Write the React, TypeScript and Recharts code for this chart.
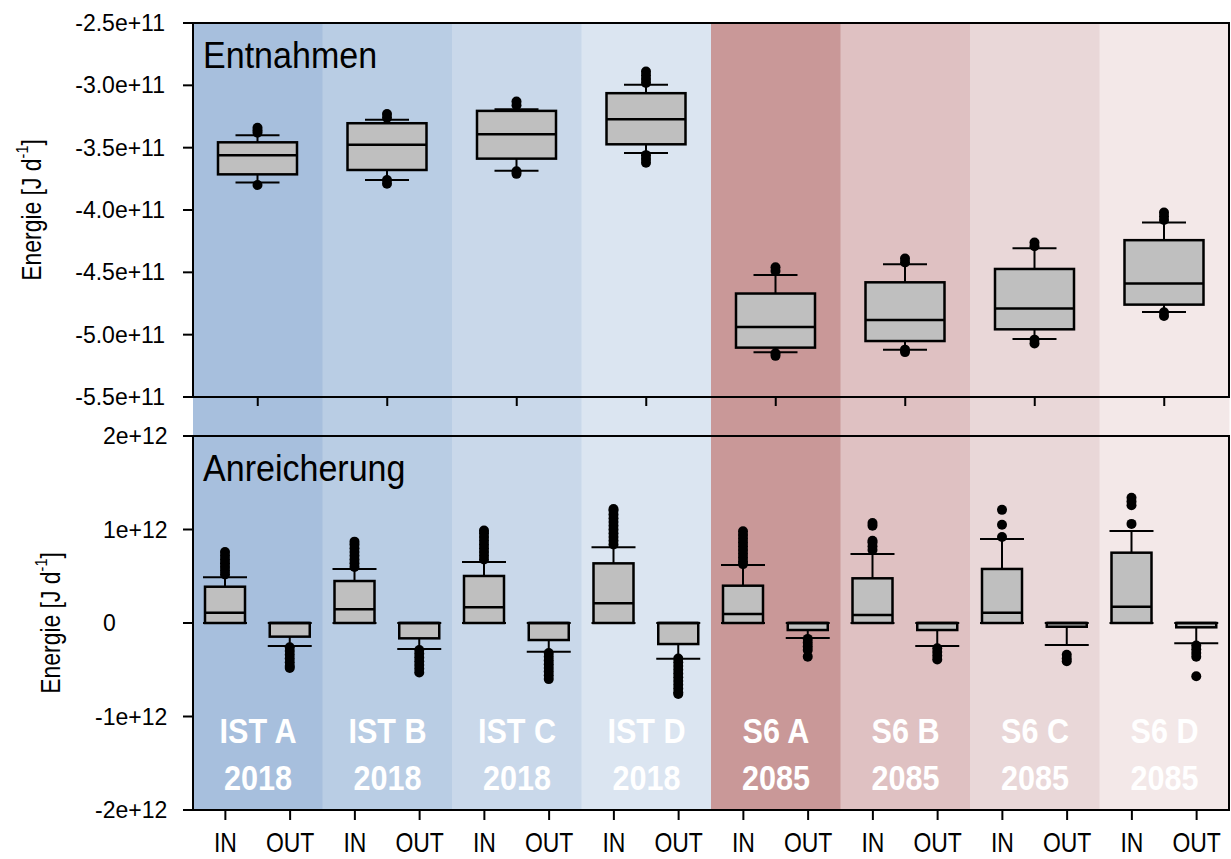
import React from "react";
import { Bar, Cell, ComposedChart, ReferenceArea, XAxis, YAxis } from "recharts";

const FONT = "'Liberation Sans', Arial, Helvetica, sans-serif";
const WIDTH = 1231;

// scenario groups shown as coloured bands behind both panels
const groups = ["IST A", "IST B", "IST C", "IST D", "S6 A", "S6 B", "S6 C", "S6 D"];
const years = ["2018", "2018", "2018", "2018", "2085", "2085", "2085", "2085"];
const bandColors = ["#a7bfdd", "#b9cde4", "#c9d8ea", "#dbe5f1", "#c99898", "#dfc1c2", "#e9d7d8", "#f3e8e8"];

// Entnahmen, in 1e11 J/d
const takeLow = [-3.78, -3.76, -3.685, -3.543, -5.142, -5.121, -5.035, -4.818];
const takeQ1 = [-3.714, -3.679, -3.588, -3.473, -5.104, -5.051, -4.957, -4.759];
const takeMedian = [-3.561, -3.476, -3.392, -3.272, -4.939, -4.883, -4.791, -4.59];
const takeQ3 = [-3.457, -3.304, -3.205, -3.063, -4.67, -4.58, -4.473, -4.242];
const takeHigh = [-3.4, -3.277, -3.191, -2.996, -4.521, -4.435, -4.306, -4.1];
const takeOutliers = [
  [-3.34, -3.36, -3.38, -3.8],
  [-3.23, -3.26, -3.76, -3.79],
  [-3.13, -3.16, -3.69, -3.71],
  [-2.89, -2.92, -2.95, -2.98, -3.56, -3.59, -3.62],
  [-4.46, -4.49, -5.15, -5.17],
  [-4.39, -4.42, -5.12, -5.14],
  [-4.26, -4.29, -5.04, -5.07],
  [-4.02, -4.05, -4.08, -4.82, -4.85],
];
const takeTicks = [-5.5, -5, -4.5, -4, -3.5, -3, -2.5];

// Anreicherung, in 1e12 J/d
const inLow = [0, 0, 0, 0, 0, 0, 0, 0];
const inQ1 = [0, 0, 0, 0, 0, 0, 0, 0];
const inMedian = [0.11, 0.146, 0.168, 0.211, 0.096, 0.086, 0.11, 0.174];
const inQ3 = [0.388, 0.449, 0.503, 0.638, 0.399, 0.478, 0.578, 0.752];
const inHigh = [0.489, 0.578, 0.652, 0.81, 0.62, 0.738, 0.898, 0.984];
const inOutliers = [
  [0.52, 0.56, 0.6, 0.64, 0.68, 0.72, 0.76],
  [0.6, 0.64, 0.68, 0.72, 0.76, 0.8, 0.84, 0.87],
  [0.68, 0.72, 0.76, 0.8, 0.84, 0.88, 0.92, 0.96, 0.99],
  [0.84, 0.88, 0.92, 0.96, 1.0, 1.04, 1.08, 1.12, 1.16, 1.2, 1.22],
  [0.63, 0.66, 0.7, 0.74, 0.78, 0.82, 0.86, 0.9, 0.94, 0.98],
  [0.78, 0.82, 0.86, 0.88, 1.04, 1.07],
  [0.92, 1.05, 1.21],
  [1.06, 1.26, 1.3, 1.34],
];
const outLow = [-0.246, -0.278, -0.307, -0.382, -0.16, -0.246, -0.235, -0.217];
const outQ1 = [-0.146, -0.164, -0.182, -0.225, -0.075, -0.075, -0.04, -0.046];
const outMedian = [0, 0, 0, 0, 0, 0, 0, 0];
const outQ3 = [0, 0, 0, 0, 0, 0, 0, 0];
const outHigh = [0, 0, 0, 0, 0, 0, 0, 0];
const outOutliers = [
  [-0.26, -0.3, -0.34, -0.38, -0.42, -0.46, -0.48],
  [-0.29, -0.33, -0.37, -0.41, -0.45, -0.49, -0.53],
  [-0.32, -0.36, -0.4, -0.44, -0.48, -0.52, -0.56, -0.6],
  [-0.38, -0.42, -0.46, -0.5, -0.54, -0.58, -0.62, -0.66, -0.7, -0.74, -0.76],
  [-0.17, -0.21, -0.25, -0.29, -0.36],
  [-0.27, -0.31, -0.35, -0.39],
  [-0.34, -0.38, -0.41],
  [-0.24, -0.28, -0.32, -0.36, -0.57],
];
const flowTicks = [-2, -1, 0, 1, 2];

type BoxRow = {
  key: string;
  low: number;
  q1: number;
  median: number;
  q3: number;
  high: number;
  outliers: number[];
  span: [number, number];
};

function boxRow(key: string, low: number, q1: number, median: number, q3: number, high: number, outliers: number[]): BoxRow {
  const all = [low, high, ...outliers];
  return { key, low, q1, median, q3, high, outliers, span: [Math.min(...all), Math.max(...all)] };
}

const bandRows = groups.map((group, i) => ({ group, year: years[i], full: 1 }));
const takeRows = groups.map((g, i) =>
  boxRow(g, takeLow[i], takeQ1[i], takeMedian[i], takeQ3[i], takeHigh[i], takeOutliers[i])
);
const flowRows = groups.flatMap((g, i) => [
  boxRow(`${g}|IN`, inLow[i], inQ1[i], inMedian[i], inQ3[i], inHigh[i], inOutliers[i]),
  boxRow(`${g}|OUT`, outLow[i], outQ1[i], outMedian[i], outQ3[i], outHigh[i], outOutliers[i]),
]);

const axisStyle = { stroke: "#000", strokeWidth: 2 };

// the bar spans [min, max] of a box; other stats are placed linearly inside it
const makeBoxShape = (capWidth: number) => (props: any) => {
  const { x, y, width, height, payload } = props;
  const row: BoxRow = payload;
  const [vMin, vMax] = row.span;
  const top = Math.min(y, y + height);
  const bottom = Math.max(y, y + height);
  const py = (v: number) => (vMax === vMin ? top : top + ((vMax - v) / (vMax - vMin)) * (bottom - top));
  const cx = x + width / 2;
  const half = capWidth / 2;
  return (
    <g>
      <line x1={cx} x2={cx} y1={py(row.high)} y2={py(row.q3)} stroke="#000" strokeWidth={2} />
      <line x1={cx} x2={cx} y1={py(row.q1)} y2={py(row.low)} stroke="#000" strokeWidth={2} />
      <line x1={cx - half} x2={cx + half} y1={py(row.high)} y2={py(row.high)} stroke="#000" strokeWidth={2} />
      <line x1={cx - half} x2={cx + half} y1={py(row.low)} y2={py(row.low)} stroke="#000" strokeWidth={2} />
      <rect x={x} y={py(row.q3)} width={width} height={py(row.q1) - py(row.q3)} fill="#bfbfbf" stroke="#000" strokeWidth={2.5} />
      <line x1={x} x2={x + width} y1={py(row.median)} y2={py(row.median)} stroke="#000" strokeWidth={2.5} />
      {row.outliers.map((v, k) => (
        <circle key={k} cx={cx} cy={py(v)} r={5} fill="#000" />
      ))}
    </g>
  );
};

function BandShape(props: any) {
  const { x, y, width, height, payload, fill } = props;
  const cx = x + width / 2;
  const base = y + height;
  return (
    <g>
      <rect x={x} y={y} width={width} height={height} fill={fill} />
      <g fill="#fff" fontFamily={FONT} fontWeight="bold" fontSize={36}>
        <text transform={`translate(${cx},${base - 67}) scale(0.85,1)`} textAnchor="middle">{payload.group}</text>
        <text transform={`translate(${cx},${base - 20}) scale(0.85,1)`} textAnchor="middle">{payload.year}</text>
      </g>
    </g>
  );
}

function TakeYTick(props: any) {
  const { x, y, payload } = props;
  return (
    <text x={x} y={y} dy={8} textAnchor="end" fontSize={23} fontFamily={FONT} fill="#000">
      {`${Number(payload.value).toFixed(1)}e+11`}
    </text>
  );
}

function FlowYTick(props: any) {
  const { x, y, payload } = props;
  const v = Number(payload.value);
  const label = v === 0 ? "0" : `${v < 0 ? "-" : ""}${Math.abs(v)}e+12`;
  const start = x - 65 - (v < 0 ? 8 : 0);
  return (
    <text x={start} y={y} dy={8} textAnchor="start" fontSize={23} fontFamily={FONT} fill="#000">
      {label}
    </text>
  );
}

function FlowXTick(props: any) {
  const { x, y, payload } = props;
  const flow = String(payload.value).split("|")[1];
  return (
    <text transform={`translate(${x},${y + 30}) scale(0.82,1)`} textAnchor="middle" fontSize={28} fontFamily={FONT} fill="#000">
      {flow}
    </text>
  );
}

const axisTitle = (offsetX: number) => (props: any) => {
  const vb = props.viewBox || {};
  const cx = (vb.x || 0) + offsetX;
  const cy = (vb.y || 0) + (vb.height || 0) / 2;
  return (
    <text
      transform={`translate(${cx},${cy}) rotate(-90) scale(0.85,1)`}
      textAnchor="middle"
      dominantBaseline="central"
      fontSize={27}
      fontFamily={FONT}
      fill="#000"
    >
      Energie [J d
      <tspan dy={-9} fontSize={17}>-1</tspan>
      <tspan dy={9}>]</tspan>
    </text>
  );
};

const panelTitle = (text: string) => (props: any) => {
  const vb = props.viewBox || {};
  return (
    <text transform={`translate(${(vb.x || 0) + 10},${(vb.y || 0) + 45}) scale(0.92,1)`} fontSize={37} fontFamily={FONT} fill="#000">
      {text}
    </text>
  );
};

const emptyTick = () => <g />;

export default function App() {
  return (
    <div style={{ position: "absolute", left: 0, top: 0, width: WIDTH, height: 859, background: "#fff" }}>
      <div style={{ position: "absolute", left: 0, top: 0 }}>
        <ComposedChart width={WIDTH} height={859} data={bandRows} barCategoryGap={0} margin={{ top: 23, right: 2, bottom: 49, left: 193 }}>
          <XAxis dataKey="group" hide />
          <YAxis hide domain={[0, 1]} />
          <Bar dataKey="full" shape={BandShape} isAnimationActive={false}>
            {bandRows.map((r, i) => (
              <Cell key={r.group} fill={bandColors[i]} />
            ))}
          </Bar>
        </ComposedChart>
      </div>

      <div style={{ position: "absolute", left: 0, top: 0 }}>
        <ComposedChart width={WIDTH} height={420} data={takeRows} margin={{ top: 23, right: 2, bottom: 10, left: 0 }}>
          <XAxis dataKey="key" height={13} interval={0} tick={emptyTick} tickSize={9} axisLine={axisStyle} tickLine={axisStyle} />
          <YAxis
            width={193}
            domain={[-5.5, -2.5]}
            ticks={takeTicks}
            allowDataOverflow
            tick={TakeYTick}
            tickSize={10}
            tickMargin={18}
            axisLine={axisStyle}
            tickLine={axisStyle}
            label={{ content: axisTitle(31) }}
          />
          <ReferenceArea y1={-5.5} y2={-2.5} fill="none" stroke="#000" strokeWidth={2} label={{ content: panelTitle("Entnahmen") }} />
          <Bar dataKey="span" barSize={79} shape={makeBoxShape(44)} isAnimationActive={false} />
        </ComposedChart>
      </div>

      <div style={{ position: "absolute", left: 0, top: 420 }}>
        <ComposedChart width={WIDTH} height={439} data={flowRows} margin={{ top: 16, right: 2, bottom: 9, left: 0 }}>
          <XAxis dataKey="key" height={40} interval={0} tick={FlowXTick} tickSize={10} tickMargin={2} axisLine={axisStyle} tickLine={axisStyle} />
          <YAxis
            width={193}
            domain={[-2, 2]}
            ticks={flowTicks}
            allowDataOverflow
            tick={FlowYTick}
            tickSize={10}
            tickMargin={15}
            axisLine={axisStyle}
            tickLine={axisStyle}
            label={{ content: axisTitle(50) }}
          />
          <ReferenceArea y1={-2} y2={2} fill="none" stroke="#000" strokeWidth={2} label={{ content: panelTitle("Anreicherung") }} />
          <Bar dataKey="span" barSize={40} shape={makeBoxShape(44)} isAnimationActive={false} />
        </ComposedChart>
      </div>
    </div>
  );
}
